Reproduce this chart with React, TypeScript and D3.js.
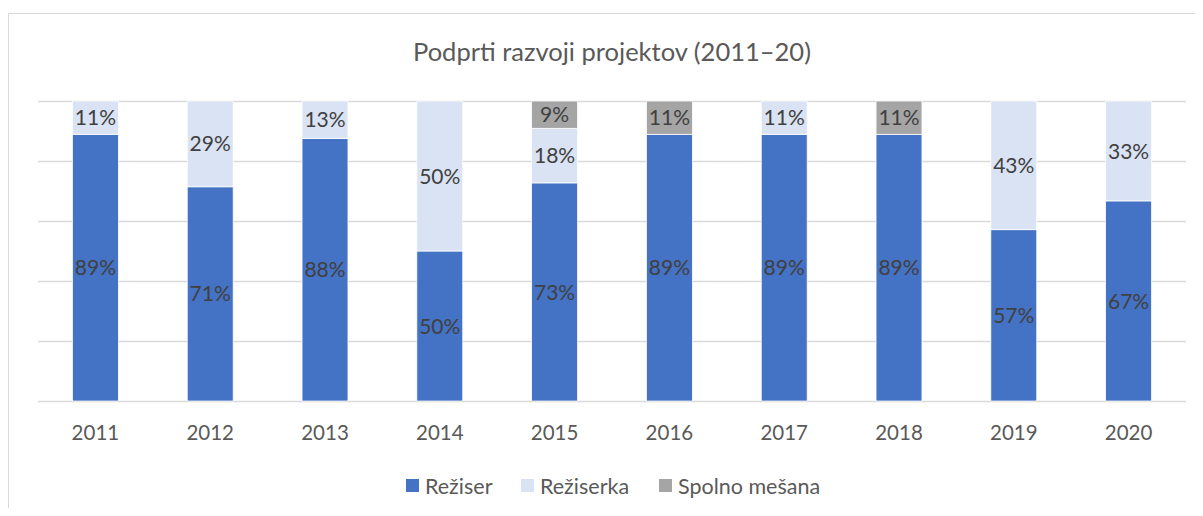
import React from "react";
import * as d3 from "d3";

const years = ["2011", "2012", "2013", "2014", "2015", "2016", "2017", "2018", "2019", "2020"];
const reziser = [88.9, 71.4, 87.5, 50, 72.7, 88.9, 88.9, 88.9, 57.1, 66.7];
const reziserka = [11.1, 28.6, 12.5, 50, 18.2, 0, 11.1, 0, 42.9, 33.3];
const spolnoMesana = [0, 0, 0, 0, 9.1, 11.1, 0, 11.1, 0, 0];
const seriesNames = ["Režiser", "Režiserka", "Spolno mešana"];
const seriesColors = ["#4472c4", "#dae3f3", "#a5a5a5"];
const yTicks = [0, 20, 40, 60, 80, 100];
const title = "Podprti razvoji projektov (2011–20)";

const W = 1203;
const H = 516;
const FONT = "Lato, 'Open Sans', sans-serif";

export default function App() {
  const x = d3.scaleBand<string>().domain(years).range([38, 1186]).paddingInner(0.6).paddingOuter(0.3);
  const y = d3.scaleLinear().domain([0, 100]).range([401, 101]);
  const seriesData = [reziser, reziserka, spolnoMesana];

  const rows = years.map((yr, i) => ({ yr, a: reziser[i], b: reziserka[i], c: spolnoMesana[i] }));
  const stack = d3.stack<any>().keys(["a", "b", "c"])(rows);

  const legendX = [406, 521, 659];

  return (
    <div style={{ margin: "-8px" }}>
      <svg width={W} height={H} style={{ display: "block" }}>
        <rect x={0} y={0} width={W} height={H} fill="#ffffff" />
        <rect x={8.5} y={13.5} width={1230} height={540} fill="none" stroke="#d9d9d9" strokeWidth={1} />
        <text x={612} y={52} dy="0.35em" textAnchor="middle" fontFamily={FONT} fontSize={25.5} fill="#595959">{title}</text>
        {yTicks.map((t) => (
          <line key={t} x1={38} x2={1186} y1={Math.round(y(t)) + 0.5} y2={Math.round(y(t)) + 0.5} stroke="#d9d9d9" strokeWidth={1.5} />
        ))}
        {stack.map((layer, si) => (
          <g key={si}>
            {layer.map((d, i) => {
              const v = seriesData[si][i];
              if (!v) return null;
              const y0 = y(d[0]);
              const y1 = y(d[1]);
              const xx = x(years[i])!;
              return (
                <g key={i}>
                  <rect x={xx} y={y1} width={x.bandwidth()} height={y0 - y1} fill={seriesColors[si]} stroke="#ffffff" strokeWidth={0.75} />
                  <text x={xx + x.bandwidth() / 2} y={(y0 + y1) / 2} dy="0.36em" textAnchor="middle" fontFamily={FONT} fontSize={21} fill="#404040">
                    {Math.round(v) + "%"}
                  </text>
                </g>
              );
            })}
          </g>
        ))}
        {years.map((yr) => (
          <text key={yr} x={x(yr)! + x.bandwidth() / 2} y={433} dy="0.36em" textAnchor="middle" fontFamily={FONT} fontSize={20.5} fill="#595959">{yr}</text>
        ))}
        {seriesNames.map((n, i) => (
          <g key={n}>
            <rect x={legendX[i]} y={479} width={13} height={13} fill={seriesColors[i]} />
            <text x={legendX[i] + 19} y={486} dy="0.36em" fontFamily={FONT} fontSize={21.5} fill="#595959">{n}</text>
          </g>
        ))}
      </svg>
    </div>
  );
}
